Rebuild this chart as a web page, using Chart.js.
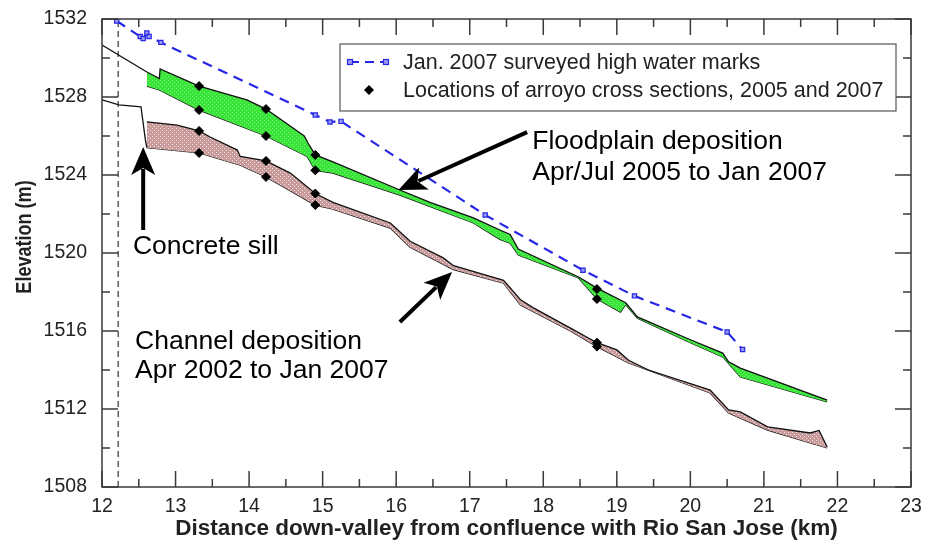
<!DOCTYPE html>
<html>
<head>
<meta charset="utf-8">
<script src="https://cdn.jsdelivr.net/npm/chart.js@4.4.1/dist/chart.umd.min.js"></script>
<style>
    html, body { margin: 0; padding: 0; background: #fff; }
    #chart { display: block; }
</style>
</head>
<body>
<canvas id="chart" width="934" height="542"></canvas>
<script>
'use strict';

// Axis ticks
const xTicks = [12, 13, 14, 15, 16, 17, 18, 19, 20, 21, 22, 23];
const yTicks = [1508, 1512, 1516, 1520, 1524, 1528, 1532];

// Jan. 2007 surveyed high water marks
const hwmKm = [12.2, 12.52, 12.56, 12.61, 12.64, 12.8, 14.9, 15.1, 15.25, 17.21, 18.54, 19.24, 20.5, 20.71];
const hwmElev = [1531.9, 1531.1, 1531.0, 1531.28, 1531.1, 1530.8, 1527.08, 1526.72, 1526.75, 1521.95, 1519.12, 1517.8, 1515.95, 1515.05];

// Floodplain surface, Jan 2007 (top of green band)
const flood2007Km = [12.61, 12.78, 12.79, 13.32, 13.97, 14.23, 14.75, 14.8, 14.9, 15.14, 16.05, 16.46, 17.05, 17.41, 17.55, 17.66, 18.48, 18.73, 19.12, 19.28, 20.0, 20.44, 20.52, 20.68, 21.86];
const flood2007Elev = [1529.28, 1528.95, 1529.44, 1528.56, 1527.85, 1527.38, 1526.0, 1525.64, 1525.03, 1524.67, 1523.23, 1522.6, 1521.8, 1521.18, 1520.95, 1520.2, 1518.77, 1518.2, 1517.45, 1516.72, 1515.55, 1514.87, 1514.42, 1514.1, 1512.46];

// Floodplain surface, Apr/Jul 2005 (bottom of green band)
const flood2005Km = [12.61, 12.78, 13.32, 14.23, 14.79, 14.9, 15.14, 16.05, 17.05, 17.41, 17.55, 17.66, 18.48, 18.73, 19.05, 19.12, 19.28, 20.0, 20.44, 20.68, 21.86];
const flood2005Elev = [1528.56, 1528.36, 1527.33, 1526.0, 1524.95, 1524.24, 1524.1, 1522.97, 1521.54, 1520.7, 1520.5, 1519.9, 1518.72, 1517.64, 1516.97, 1517.35, 1516.65, 1515.4, 1514.67, 1513.64, 1512.36];

// Channel bed, Jan 2007 (top of brown band)
const chan2007Km = [12.61, 13.02, 13.32, 13.47, 13.84, 13.88, 14.23, 14.56, 14.9, 15.14, 15.92, 16.19, 16.64, 16.78, 17.46, 17.69, 17.86, 18.37, 18.73, 19.0, 19.16, 19.43, 20.27, 20.52, 20.68, 21.05, 21.63, 21.75, 21.86];
const chan2007Elev = [1526.72, 1526.56, 1526.26, 1525.95, 1525.28, 1524.95, 1524.72, 1524.1, 1523.05, 1522.6, 1521.54, 1520.6, 1519.75, 1519.35, 1518.6, 1517.6, 1517.2, 1516.15, 1515.4, 1515.03, 1514.5, 1514.0, 1512.97, 1511.95, 1511.85, 1511.08, 1510.77, 1510.9, 1510.05];

// Channel bed, Apr 2002 (bottom of brown band)
const chan2002Km = [12.61, 13.32, 13.88, 14.23, 14.9, 15.14, 15.92, 16.19, 16.78, 17.46, 17.69, 18.37, 18.73, 19.16, 20.27, 20.52, 21.05, 21.63, 21.86];
const chan2002Elev = [1525.4, 1525.13, 1524.5, 1523.9, 1522.46, 1522.25, 1521.28, 1520.3, 1519.15, 1518.45, 1517.33, 1516.0, 1515.2, 1514.36, 1512.82, 1511.8, 1510.92, 1510.26, 1510.0];

// Profiles upstream of the bands
const upperLeftKm = [12.0, 12.61];
const upperLeftElev = [1530.67, 1529.28];
const lowerLeftKm = [12.0, 12.23, 12.53, 12.59, 12.61];
const lowerLeftElev = [1527.85, 1527.6, 1527.5, 1525.8, 1525.4];

// Arroyo cross sections, 2005 and 2007
const xsecKm = [13.32, 13.32, 13.32, 13.32, 14.23, 14.23, 14.23, 14.23, 14.9, 14.9, 14.9, 14.9, 18.73, 18.73, 18.73, 18.73];
const xsecElev = [1528.56, 1527.33, 1526.26, 1525.13, 1527.38, 1526.0, 1524.72, 1523.9, 1525.03, 1524.24, 1523.05, 1522.46, 1518.15, 1517.64, 1515.4, 1515.2];

// Concrete sill location
const sillKm = [12.22, 12.22];
const sillElev = [1508, 1532];

const FONT = '"Liberation Sans", Arial, Helvetica, sans-serif';
const canvas = document.getElementById('chart');
const ctx0 = canvas.getContext('2d');

const pairs = function (xs, ys) {
    return xs.map((x, i) => ({ x: x, y: ys[i] }));
};

const makePattern = function (base, dot) {
    const c = document.createElement('canvas');
    c.width = 4;
    c.height = 4;
    const g = c.getContext('2d');
    g.fillStyle = base;
    g.fillRect(0, 0, 4, 4);
    g.fillStyle = dot;
    g.fillRect(0, 0, 1, 1);
    g.fillRect(2, 2, 1, 1);
    return ctx0.createPattern(c, 'repeat');
};

const greenFill = makePattern('#37e437', '#7cf27c');
const brownFill = makePattern('#c89a9a', '#f4e6e6');

const lineBase = {
    pointRadius: 0,
    borderWidth: 1.3,
    borderColor: '#111',
    tension: 0,
    fill: false,
};

// Box round the plot with inward ticks on all four sides
const frameTicks = {
    id: 'frameTicks',
    afterDatasetsDraw(chart) {
        const { ctx, chartArea: a, scales: { x, y } } = chart;
        ctx.save();
        ctx.strokeStyle = '#3a3a3a';
        ctx.lineWidth = 1.5;
        ctx.strokeRect(a.left, a.top, a.right - a.left, a.bottom - a.top);
        ctx.beginPath();
        xTicks.forEach((v, i) => {
            const px = x.getPixelForValue(v);
            ctx.moveTo(px, a.bottom); ctx.lineTo(px, a.bottom - 16);
            ctx.moveTo(px, a.top); ctx.lineTo(px, a.top + 16);
            if (i < xTicks.length - 1) {
                const pm = x.getPixelForValue(v + 0.5);
                ctx.moveTo(pm, a.bottom); ctx.lineTo(pm, a.bottom - 8);
                ctx.moveTo(pm, a.top); ctx.lineTo(pm, a.top + 8);
            }
        });
        yTicks.forEach((v, i) => {
            const py = y.getPixelForValue(v);
            ctx.moveTo(a.left, py); ctx.lineTo(a.left + 16, py);
            ctx.moveTo(a.right, py); ctx.lineTo(a.right - 16, py);
            if (i < yTicks.length - 1) {
                const pm = y.getPixelForValue(v + 2);
                ctx.moveTo(a.left, pm); ctx.lineTo(a.left + 8, pm);
                ctx.moveTo(a.right, pm); ctx.lineTo(a.right - 8, pm);
            }
        });
        ctx.stroke();
        ctx.restore();
    },
};

const drawArrow = function (ctx, x1, y1, x2, y2) {
    const ang = Math.atan2(y2 - y1, x2 - x1);
    const len = 28;
    const half = 12;
    const bx = x2 - len * Math.cos(ang);
    const by = y2 - len * Math.sin(ang);
    ctx.beginPath();
    ctx.moveTo(x1, y1);
    ctx.lineTo(bx + 6 * Math.cos(ang), by + 6 * Math.sin(ang));
    ctx.lineWidth = 4;
    ctx.stroke();
    ctx.beginPath();
    ctx.moveTo(x2, y2);
    ctx.lineTo(bx + half * Math.sin(ang), by - half * Math.cos(ang));
    ctx.lineTo(bx + 7 * Math.cos(ang), by + 7 * Math.sin(ang));
    ctx.lineTo(bx - half * Math.sin(ang), by + half * Math.cos(ang));
    ctx.closePath();
    ctx.fill();
};

// Legend box, y axis title and text annotations with arrows
const notes = {
    id: 'notes',
    afterDraw(chart) {
        const { ctx, scales: { x, y } } = chart;
        const X = (v) => x.getPixelForValue(v);
        const Y = (v) => y.getPixelForValue(v);
        ctx.save();

        // legend
        ctx.fillStyle = '#fff';
        ctx.fillRect(340, 44, 556, 67);
        ctx.strokeStyle = '#555';
        ctx.lineWidth = 1.2;
        ctx.strokeRect(340, 44, 556, 67);
        ctx.strokeStyle = '#2626e6';
        ctx.lineWidth = 2.2;
        ctx.setLineDash([9, 6]);
        ctx.beginPath();
        ctx.moveTo(350, 62);
        ctx.lineTo(386, 62);
        ctx.stroke();
        ctx.setLineDash([]);
        ctx.fillStyle = '#9a9af5';
        ctx.lineWidth = 1.2;
        [350, 386].forEach((px) => {
            ctx.fillRect(px - 2.5, 59.5, 5, 5);
            ctx.strokeRect(px - 2.5, 59.5, 5, 5);
        });
        ctx.fillStyle = '#000';
        ctx.beginPath();
        ctx.moveTo(369, 85);
        ctx.lineTo(374, 90);
        ctx.lineTo(369, 95);
        ctx.lineTo(364, 90);
        ctx.closePath();
        ctx.fill();
        ctx.fillStyle = '#222';
        ctx.font = '21.5px ' + FONT;
        ctx.textBaseline = 'middle';
        ctx.textAlign = 'left';
        ctx.fillText('Jan. 2007 surveyed high water marks', 403, 63);
        ctx.fillText('Locations of arroyo cross sections, 2005 and 2007', 403, 91);

        // y axis title
        ctx.save();
        ctx.translate(25, 237);
        ctx.rotate(-Math.PI / 2);
        ctx.scale(0.82, 1);
        ctx.textAlign = 'center';
        ctx.font = 'bold 22px ' + FONT;
        ctx.fillText('Elevation (m)', 0, 0);
        ctx.restore();

        // annotations
        ctx.fillStyle = '#000';
        ctx.strokeStyle = '#000';
        ctx.font = '26.5px ' + FONT;
        ctx.fillText('Floodplain deposition', X(17.85), Y(1525.7));
        ctx.fillText('Apr/Jul 2005 to Jan 2007', X(17.85), Y(1524.1));
        ctx.fillText('Concrete sill', X(12.42), Y(1520.3));
        ctx.fillText('Channel deposition', X(12.45), Y(1515.44));
        ctx.fillText('Apr 2002 to Jan 2007', X(12.45), Y(1513.95));

        drawArrow(ctx, X(17.78), Y(1526.2), X(16.03), Y(1523.23));
        drawArrow(ctx, X(12.56), Y(1521.18), X(12.56), Y(1525.44));
        drawArrow(ctx, X(16.05), Y(1516.46), X(16.76), Y(1519.03));
        ctx.restore();
    },
};

new Chart(canvas, {
    type: 'line',
    data: {
        datasets: [
            {
                label: 'Locations of arroyo cross sections, 2005 and 2007',
                data: pairs(xsecKm, xsecElev),
                showLine: false,
                pointStyle: 'rectRot',
                pointRadius: 4.5,
                pointBackgroundColor: '#000',
                pointBorderColor: '#000',
                order: 0,
            },
            {
                label: 'Jan. 2007 surveyed high water marks',
                data: pairs(hwmKm, hwmElev),
                borderColor: '#2626e6',
                borderWidth: 2.2,
                borderDash: [10, 7],
                pointStyle: 'rect',
                pointRadius: 3,
                pointBorderWidth: 1.2,
                pointBackgroundColor: '#9a9af5',
                pointBorderColor: '#2626e6',
                tension: 0,
                fill: false,
                order: 1,
            },
            Object.assign({}, lineBase, {
                label: 'Floodplain Jan 2007',
                data: pairs(flood2007Km, flood2007Elev),
                fill: '+1',
                backgroundColor: greenFill,
                order: 3,
            }),
            Object.assign({}, lineBase, {
                label: 'Floodplain Apr/Jul 2005',
                data: pairs(flood2005Km, flood2005Elev),
                order: 3,
            }),
            Object.assign({}, lineBase, {
                label: 'Channel Jan 2007',
                data: pairs(chan2007Km, chan2007Elev),
                fill: '+1',
                backgroundColor: brownFill,
                order: 3,
            }),
            Object.assign({}, lineBase, {
                label: 'Channel Apr 2002',
                data: pairs(chan2002Km, chan2002Elev),
                order: 3,
            }),
            Object.assign({}, lineBase, {
                label: 'Upper profile',
                data: pairs(upperLeftKm, upperLeftElev),
                order: 2,
            }),
            Object.assign({}, lineBase, {
                label: 'Lower profile',
                data: pairs(lowerLeftKm, lowerLeftElev),
                order: 2,
            }),
            Object.assign({}, lineBase, {
                label: 'Concrete sill',
                data: pairs(sillKm, sillElev),
                borderWidth: 1.2,
                borderColor: '#333',
                borderDash: [6, 4],
                order: 4,
            }),
        ],
    },
    options: {
        responsive: false,
        animation: false,
        devicePixelRatio: 1,
        layout: { padding: { top: 19, right: 23, left: 0, bottom: 0 } },
        plugins: {
            legend: { display: false },
            tooltip: { enabled: false },
        },
        scales: {
            x: {
                type: 'linear',
                min: 12,
                max: 23,
                grid: { display: false },
                border: { display: false },
                afterBuildTicks: (scale) => {
                    scale.ticks = xTicks.map((v) => ({ value: v }));
                },
                afterFit: (scale) => {
                    scale.height = 55;
                },
                ticks: {
                    padding: 0,
                    color: '#222',
                    font: { family: FONT, size: 19.5 },
                    maxRotation: 0,
                    callback: (value) => String(value),
                },
                title: {
                    display: true,
                    text: 'Distance down-valley from confluence with Rio San Jose (km)',
                    color: '#222',
                    font: { family: FONT, size: 22.5, weight: 'bold' },
                    padding: { top: 0, bottom: 0 },
                },
            },
            y: {
                type: 'linear',
                min: 1508,
                max: 1532,
                grid: { display: false },
                border: { display: false },
                afterBuildTicks: (scale) => {
                    scale.ticks = yTicks.map((v) => ({ value: v }));
                },
                afterFit: (scale) => {
                    scale.width = 102;
                },
                ticks: {
                    padding: 7,
                    color: '#222',
                    font: { family: FONT, size: 19.5 },
                    callback: (value) => String(value),
                },
            },
        },
    },
    plugins: [frameTicks, notes],
});
</script>
</body>
</html>
